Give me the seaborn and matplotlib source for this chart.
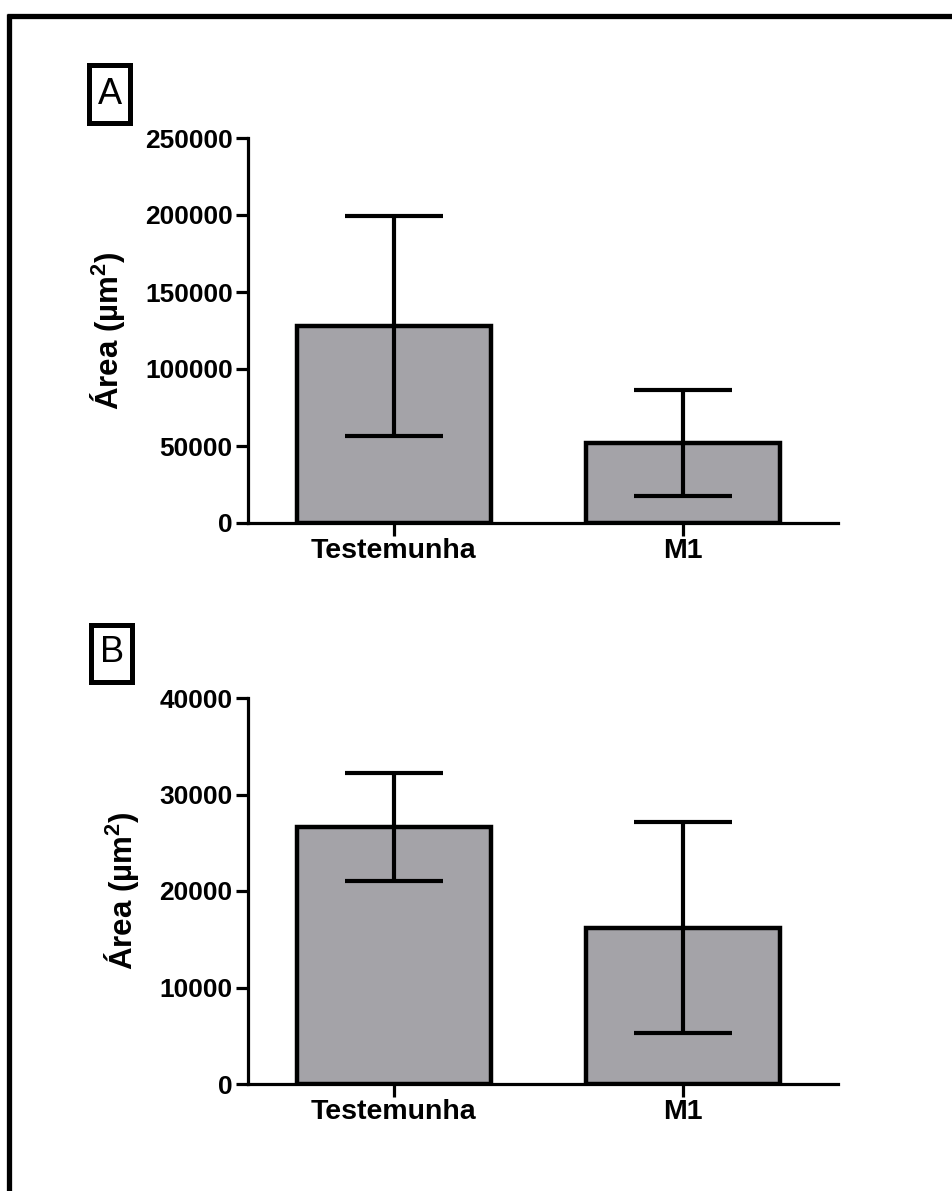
import matplotlib
matplotlib.use("Agg")
import matplotlib.pyplot as plt
from matplotlib.lines import Line2D
from matplotlib.patches import Rectangle
import seaborn as sns
import pandas as pd

# Group names and summary statistics (mean and standard deviation)
categories = ["Testemunha", "M1"]

area_a_mean = [128000, 52000]
area_a_sd = [71500, 34500]
yticks_a = [0, 50000, 100000, 150000, 200000, 250000]

area_b_mean = [26600, 16200]
area_b_sd = [5600, 10950]
yticks_b = [0, 10000, 20000, 30000, 40000]

ylabel = r"Área (µm$^{\mathbf{2}}$)"
panel_labels = ["A", "B"]

sns.set_style("ticks")
plt.rcParams["font.family"] = ["Liberation Sans", "DejaVu Sans"]
plt.rcParams["font.weight"] = "bold"
plt.rcParams["axes.labelweight"] = "bold"
plt.rcParams["axes.labelcolor"] = "black"
plt.rcParams["mathtext.fontset"] = "custom"
plt.rcParams["mathtext.rm"] = "Liberation Sans"
plt.rcParams["mathtext.bf"] = "Liberation Sans:bold"

W, H = 953, 1191
fig = plt.figure(figsize=(W / 100, H / 100), dpi=100)
fig.patch.set_facecolor("white")


def axes_px(left, right, top, bottom):
    return fig.add_axes([left / W, 1 - bottom / H, (right - left) / W, (bottom - top) / H])


bar_grey = "#a4a3a8"


def draw_panel(ax, means, sds, yticks):
    df = pd.DataFrame({"grupo": categories, "area": means})
    sns.barplot(data=df, x="grupo", y="area", color=bar_grey, saturation=1,
                edgecolor="black", linewidth=3.2, width=0.67,
                errorbar=None, ax=ax)
    ax.errorbar(x=list(range(len(categories))), y=means, yerr=sds, fmt="none",
                ecolor="black", elinewidth=3, capsize=35, capthick=3, zorder=5)
    ax.set_xlim(-0.503, 1.534)
    ax.set_ylim(yticks[0], yticks[-1])
    ax.set_yticks(yticks)
    ax.set_yticklabels([str(v) for v in yticks], fontsize=19, fontweight="bold")
    ax.set_xticks(range(len(categories)))
    ax.set_xticklabels(categories, fontsize=20.5, fontweight="bold")
    ax.set_xlabel("")
    ax.set_ylabel(ylabel, fontsize=22.5, fontweight="bold", color="black", labelpad=13)
    sns.despine(ax=ax)
    for side in ("left", "bottom"):
        ax.spines[side].set_linewidth(2.3)
        ax.spines[side].set_color("black")
    ax.tick_params(axis="both", width=2.3, length=9, direction="out",
                   color="black", labelcolor="black", pad=2)


axA = axes_px(248, 838, 138, 523)
axB = axes_px(248, 838, 698, 1084)
draw_panel(axA, area_a_mean, area_a_sd, yticks_a)
draw_panel(axB, area_b_mean, area_b_sd, yticks_b)

# Boxed panel letters
for label, (cx, cy) in zip(panel_labels, [(110, 94), (112, 653)]):
    bw, bh = 41, 57
    fig.patches.append(Rectangle(((cx - bw / 2) / W, 1 - (cy + bh / 2) / H), bw / W, bh / H,
                                 transform=fig.transFigure, fill=False,
                                 edgecolor="black", linewidth=3.6))
    fig.text(cx / W, 1 - cy / H, label, ha="center", va="center",
             fontsize=26, fontweight="normal", color="black")

# Frame lines along the top and left edges
fig.lines.append(Line2D([7 / W, 1.0], [1 - 15.5 / H, 1 - 15.5 / H],
                        transform=fig.transFigure, color="black", linewidth=3.8,
                        solid_capstyle="butt"))
fig.lines.append(Line2D([9.5 / W, 9.5 / W], [0.0, 1 - 13.6 / H],
                        transform=fig.transFigure, color="black", linewidth=3.8,
                        solid_capstyle="butt"))

fig.savefig("out.png", dpi=100, facecolor="white")
